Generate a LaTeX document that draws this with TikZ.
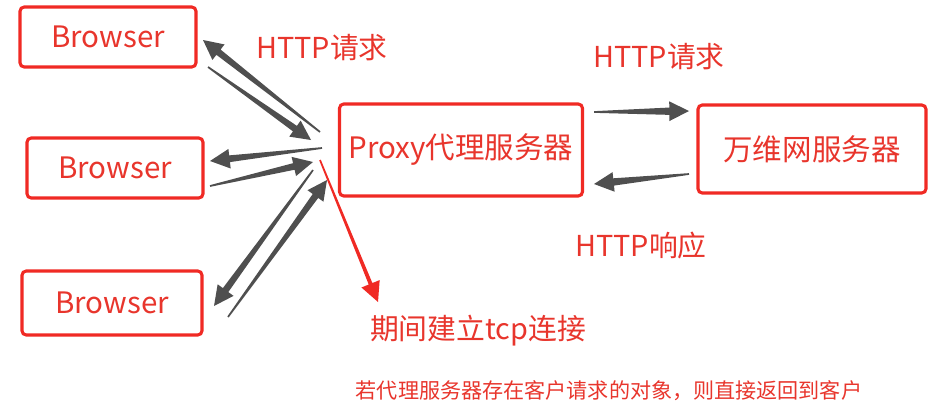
\documentclass[tikz,border=0pt]{standalone}
\usepackage{fontspec}
\setmainfont{Noto Sans CJK SC}
\usepackage{tikz}
\usetikzlibrary{positioning, arrows.meta, calc}
\definecolor{boxred}{HTML}{F02A24}
\definecolor{txtred}{HTML}{E8352C}
\definecolor{arrowgray}{HTML}{4F4F4F}
\tikzset{
  hostbox/.style = {rectangle, rounded corners=3pt, draw=boxred, line width=2.2pt,
                    align=center, text=txtred, font=\fontsize{21}{24}\selectfont},
  lbl/.style     = {text=txtred, font=\fontsize{20.5}{24}\selectfont, inner sep=0pt},
}
% tapered block arrow from #2 to #3, shaft half width #4
\newcommand{\wedgearrow}[4][arrowgray]{%
  \coordinate (hb) at ($(#3)!14pt!(#2)$);
  \fill[#1] ($(#2)!0.6pt!90:(#3)$) -- ($(hb)!#4!-90:(#2)$)
    -- ($(hb)!7pt!-90:(#2)$) -- (#3) -- ($(hb)!7pt!90:(#2)$)
    -- ($(hb)!#4!90:(#2)$) -- ($(#2)!0.6pt!-90:(#3)$) -- cycle;}

\begin{document}
\begin{tikzpicture}[x=0.025cm, y=-0.025cm]
  \useasboundingbox (0,0) rectangle (944,414);

  % hosts
  \node[hostbox, minimum width=176*0.025cm, minimum height=60*0.025cm] (b1) at (108,37) {Browser};
  \node[hostbox, minimum width=176*0.025cm, minimum height=60*0.025cm] (b2) at (115,168) {Browser};
  \node[hostbox, minimum width=180*0.025cm, minimum height=64*0.025cm] (b3) at (112,303) {Browser};
  \node[hostbox, minimum width=243*0.025cm, minimum height=92*0.025cm] (proxy) at (461,150) {Proxy代理服务器};
  \node[hostbox, minimum width=228*0.025cm, minimum height=88*0.025cm] (www) at (812,149) {万维网服务器};

  % arrow ends
  \coordinate (p1) at (320,132);
  \coordinate (q1) at (203,40);
  \coordinate (p2) at (208,67);
  \coordinate (q2) at (311,140);
  \coordinate (p3) at (322,148);
  \coordinate (q3) at (210,161);
  \coordinate (p4) at (210,186);
  \coordinate (q4) at (313,162);
  \coordinate (p5) at (313,170);
  \coordinate (q5) at (214,306);
  \coordinate (p6) at (228,317);
  \coordinate (q6) at (327,180);
  \coordinate (r1) at (320,160);
  \coordinate (r2) at (378,302);
  \coordinate (s1) at (594,112);
  \coordinate (s2) at (689,111);
  \coordinate (t1) at (689,174);
  \coordinate (t2) at (594,184);

  \wedgearrow{p1}{q1}{2.4pt}
  \wedgearrow{p2}{q2}{2.4pt}
  \wedgearrow{p3}{q3}{2.4pt}
  \wedgearrow{p4}{q4}{2.4pt}
  \wedgearrow{p5}{q5}{2.4pt}
  \wedgearrow{p6}{q6}{2.4pt}
  \wedgearrow[boxred]{r1}{r2}{1.4pt}
  \wedgearrow{s1}{s2}{2.6pt}
  \wedgearrow{t1}{t2}{2.6pt}

  % labels
  \node[lbl] (req1) at (322,48) {HTTP请求};
  \node[lbl] (req2) at (659,57) {HTTP请求};
  \node[lbl] (resp) at (641,246) {HTTP响应};
  \node[lbl] (tcp) at (478,331) {期间建立tcp连接};
  \node[lbl, font=\fontsize{15}{18}\selectfont] (note) at (609,391)
       {若代理服务器存在客户请求的对象，则直接返回到客户};

\end{tikzpicture}
\end{document}
